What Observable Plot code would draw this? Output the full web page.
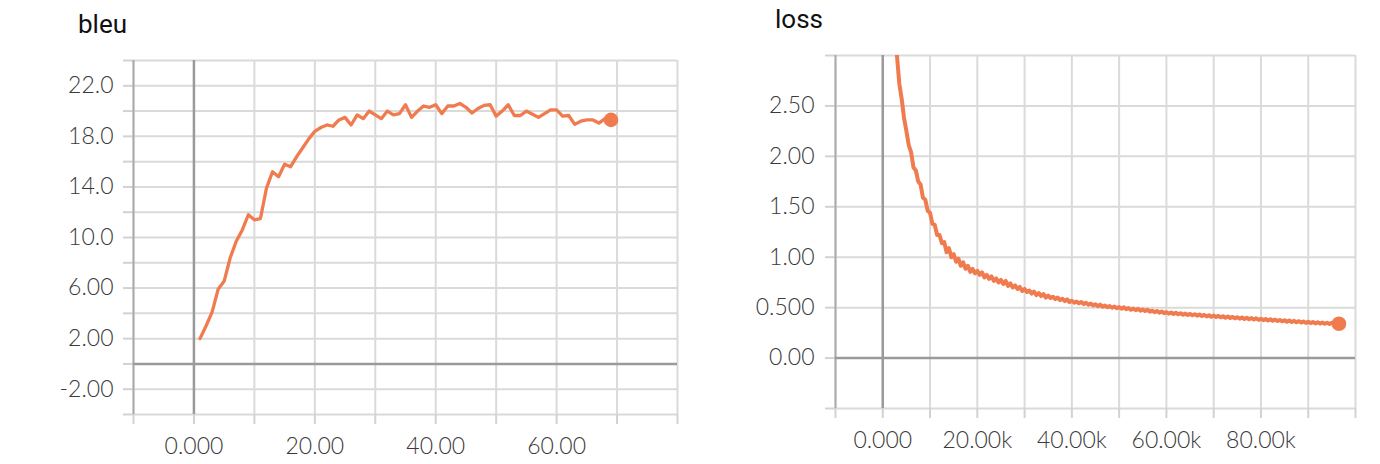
<!DOCTYPE html>
<html><head><meta charset="utf-8">
<script src="https://cdn.jsdelivr.net/npm/d3@7"></script>
<script src="https://cdn.jsdelivr.net/npm/@observablehq/plot@0.6"></script>
<style>
body{margin:0;background:#fff;width:1380px;height:464px;overflow:hidden;position:relative;font-family:Roboto,"Liberation Sans",sans-serif}
.title{position:absolute;font-size:26px;line-height:30px;color:#111;font-weight:400;font-family:Roboto,sans-serif}
.chart{position:absolute}
</style></head><body>
<div class="title" style="left:78px;top:9px">bleu</div>
<div class="chart" id="bleu" style="left:0;top:40px"></div>
<div class="title" style="left:775px;top:4px">loss</div>
<div class="chart" id="loss" style="left:690px;top:35px"></div>
<script>
// ---- bleu data ----
const bleuSteps = d3.range(1, 70);
const bleuValues = [
  2.0, 3.0, 4.1, 5.9, 6.55, 8.4, 9.7, 10.6, 11.8, 11.4,
  11.5, 13.9, 15.2, 14.8, 15.8, 15.6, 16.4, 17.1, 17.8, 18.4,
  18.7, 18.9, 18.8, 19.3, 19.5, 18.9, 19.7, 19.4, 20.0, 19.7,
  19.4, 20.0, 19.7, 19.8, 20.5, 19.5, 20.0, 20.4, 20.3, 20.5,
  19.8, 20.4, 20.4, 20.6, 20.3, 19.85, 20.2, 20.45, 20.5, 19.6,
  20.0, 20.5, 19.65, 19.65, 20.0, 19.75, 19.5, 19.8, 20.1, 20.1,
  19.6, 19.65, 18.95, 19.2, 19.3, 19.3, 19.05, 19.4, 19.3
];
const bleuXGrid = [-10, 0, 10, 20, 30, 40, 50, 60, 70, 80];
const bleuYGrid = [-4, -2, 0, 2, 4, 6, 8, 10, 12, 14, 16, 18, 20, 22, 24];
const bleuXTicks = [0, 20, 40, 60];
const bleuXTickLabels = ["0.000", "20.00", "40.00", "60.00"];
const bleuYTicks = [22, 18, 14, 10, 6, 2, -2];
const bleuYTickLabels = ["22.0", "18.0", "14.0", "10.0", "6.00", "2.00", "-2.00"];

// ---- loss data (every 500 steps, from 500) ----
const lossStepInterval = 500;
const lossValues = [
  7.60, 6.10, 4.95, 4.10, 3.45, 3.00, 2.72, 2.57, 2.38, 2.25,
  2.11, 2.04, 1.89, 1.86, 1.75, 1.72, 1.59, 1.57, 1.46, 1.44,
  1.33, 1.32, 1.22, 1.22, 1.14, 1.15, 1.05, 1.09, 1.00, 1.03,
  0.955, 0.985, 0.915, 0.95, 0.885, 0.915, 0.855, 0.885, 0.84, 0.865,
  0.825, 0.85, 0.80, 0.825, 0.785, 0.81, 0.765, 0.79, 0.75, 0.775,
  0.735, 0.765, 0.715, 0.74, 0.70, 0.72, 0.685, 0.705, 0.665, 0.685,
  0.655, 0.67, 0.64, 0.66, 0.625, 0.645, 0.615, 0.635, 0.60, 0.62,
  0.595, 0.608, 0.585, 0.60, 0.575, 0.588, 0.565, 0.582, 0.555, 0.568,
  0.549, 0.561, 0.543, 0.556, 0.535, 0.548, 0.529, 0.541, 0.521, 0.533,
  0.514, 0.53, 0.509, 0.521, 0.504, 0.516, 0.499, 0.511, 0.494, 0.506,
  0.489, 0.503, 0.485, 0.496, 0.479, 0.491, 0.475, 0.488, 0.470, 0.482,
  0.466, 0.478, 0.460, 0.471, 0.455, 0.467, 0.450, 0.462, 0.445, 0.455,
  0.441, 0.452, 0.437, 0.449, 0.434, 0.445, 0.430, 0.441, 0.427, 0.438,
  0.424, 0.435, 0.421, 0.432, 0.417, 0.428, 0.413, 0.425, 0.410, 0.421,
  0.407, 0.418, 0.404, 0.415, 0.400, 0.412, 0.397, 0.408, 0.394, 0.405,
  0.391, 0.402, 0.388, 0.400, 0.385, 0.396, 0.382, 0.394, 0.379, 0.390,
  0.376, 0.388, 0.373, 0.384, 0.370, 0.381, 0.367, 0.378, 0.364, 0.375,
  0.361, 0.372, 0.358, 0.369, 0.355, 0.366, 0.352, 0.363, 0.349, 0.360,
  0.347, 0.358, 0.344, 0.355, 0.342, 0.353, 0.340, 0.350, 0.338, 0.349,
  0.337, 0.347, 0.340
];
const lossXGrid = d3.range(-10000, 100001, 10000);
const lossYGrid = [-0.5, 0, 0.5, 1.0, 1.5, 2.0, 2.5, 3.0];
const lossXTicks = [0, 20000, 40000, 60000, 80000];
const lossXTickLabels = ["0.000", "20.00k", "40.00k", "60.00k", "80.00k"];
const lossYTicks = [2.5, 2.0, 1.5, 1.0, 0.5, 0];
const lossYTickLabels = ["2.50", "2.00", "1.50", "1.00", "0.500", "0.00"];

const lineColor = "#f07b4f";

function chart(o) {
  const xl = new Map(o.xTicks.map((t, i) => [t, o.xLabels[i]]));
  const yl = new Map(o.yTicks.map((t, i) => [t, o.yLabels[i]]));
  const last = o.data[o.data.length - 1];
  return Plot.plot({
    width: o.width, height: o.height,
    marginLeft: o.ml, marginRight: o.mr, marginTop: o.mt, marginBottom: o.mb,
    x: {domain: o.xDomain, axis: null, label: null},
    y: {domain: o.yDomain, axis: null, label: null},
    style: "font-family: Lato, Roboto, sans-serif; font-size: 23px; font-weight: 300; color: #3a3a3a; background: transparent;",
    marks: [
      Plot.gridY(o.yGrid, {stroke: "#dadada", strokeOpacity: 1, strokeWidth: 2}),
      Plot.gridX(o.xGrid, {stroke: "#dadada", strokeOpacity: 1, strokeWidth: 2}),
      Plot.axisY(o.yGrid, {tickSize: 10, tickFormat: () => "", stroke: "#d2d2d2", strokeWidth: 2, label: null}),
      Plot.axisX(o.xGrid, {tickSize: 10, tickFormat: () => "", stroke: "#d2d2d2", strokeWidth: 2, label: null}),
      Plot.ruleX([o.xDomain[0]], {stroke: "#ababab", strokeWidth: 2}),
      Plot.ruleX([0], {stroke: "#9a9a9a", strokeWidth: 2.5}),
      Plot.ruleY([0], {stroke: "#9a9a9a", strokeWidth: 2.5}),
      Plot.line(o.data, {x: "x", y: "y", stroke: lineColor, strokeWidth: o.sw, clip: true}),
      Plot.dot([last], {x: "x", y: "y", r: 7.3, fill: lineColor, stroke: null}),
      Plot.axisY(o.yTicks, {tickSize: 0, tickPadding: o.yPad, tickFormat: d => yl.get(d), fill: "#3a3a3a", label: null}),
      Plot.axisX(o.xTicks, {tickSize: 0, tickPadding: o.xPad, tickFormat: d => xl.get(d), fill: "#3a3a3a", label: null})
    ]
  });
}

const bleuData = bleuSteps.map((s, i) => ({x: s, y: bleuValues[i]}));
const lossData = lossValues.map((v, i) => ({x: (i + 1) * lossStepInterval, y: v}));

document.getElementById("bleu").append(chart({
  data: bleuData, width: 690, height: 424, ml: 133, mr: 13, mt: 20, mb: 50,
  xDomain: [-10, 80], yDomain: [-4, 24], xGrid: bleuXGrid, yGrid: bleuYGrid,
  xTicks: bleuXTicks, xLabels: bleuXTickLabels, yTicks: bleuYTicks, yLabels: bleuYTickLabels,
  xPad: 23, yPad: 20, sw: 3.3
}));
document.getElementById("loss").append(chart({
  data: lossData, width: 690, height: 429, ml: 145, mr: 25, mt: 20, mb: 56,
  xDomain: [-10000, 100000], yDomain: [-0.5, 3.0], xGrid: lossXGrid, yGrid: lossYGrid,
  xTicks: lossXTicks, xLabels: lossXTickLabels, yTicks: lossYTicks, yLabels: lossYTickLabels,
  xPad: 23, yPad: 21, sw: 4
}));
</script>
</body></html>
